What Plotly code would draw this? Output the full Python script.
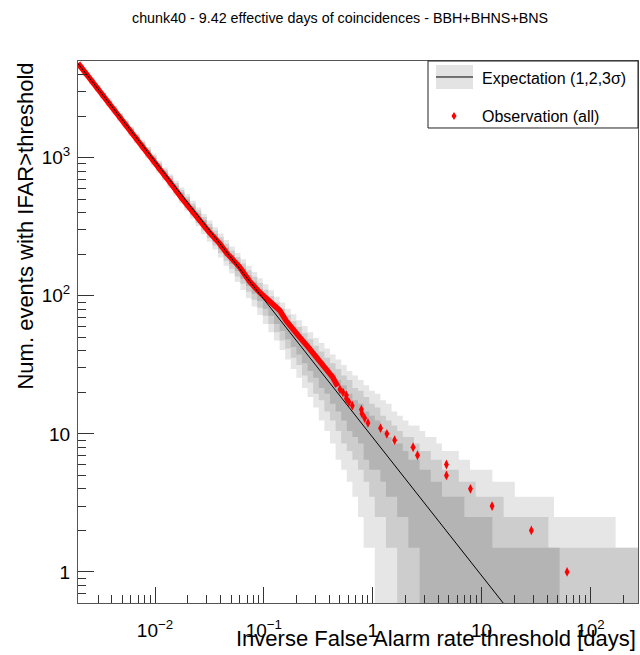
import numpy as np
import plotly.graph_objects as go

FONT = "Liberation Sans, Arial, Helvetica, sans-serif"

# axis limits
X_MIN, X_MAX = 0.00196, 274.0
Y_MIN, Y_MAX = 0.596, 5010.0

# expectation line (end points on the frame)
EXPECT_T = [0.00196, 274.0]
EXPECT_N = [4806.0, 0.0344]

# histogram bins of the 1,2,3 sigma bands (100 log bins across the x range)
N_BINS = 100

LO3 = [4321, 3827, 3390, 3002, 2658, 2351, 2082, 1842, 1629, 1439,
       1272, 1125, 993, 877, 774, 683, 602, 531, 467, 412,
       362, 318, 280, 246, 216, 189, 165, 145, 126, 110,
       96, 83.5, 72.5, 62.5, 54.5, 47.5, 40.5, 34.5, 29.5, 25.5,
       21.5, 18.5, 15.5, 12.5, 10.5, 8.5, 6.5, 5.5, 4.5, 3.5,
       2.5, 1.5, 1.5, 0.5, 0.5, 0.5, 0.5, 0.5, 0.5, 0.5,
       0.5, 0.5, 0.5, 0.5, 0.5, 0.5, 0.5, 0.5, 0.5, 0.5,
       0.5, 0.5, 0.5, 0.5, 0.5, 0.5, 0.5, 0.5, 0.5, 0.5,
       0.5, 0.5, 0.5, 0.5, 0.5, 0.5, 0.5, 0.5, 0.5, 0.5,
       0.5, 0.5, 0.5, 0.5, 0.5, 0.5, 0.5, 0.5, 0.5, 0.5]
LO2 = [4387, 3890, 3449, 3057, 2710, 2401, 2128, 1885, 1669, 1478,
       1309, 1159, 1025, 907, 802, 710, 627, 554, 490, 433,
       382, 337, 297, 262, 231, 203, 179, 157, 138, 122,
       107, 93.5, 82, 71.5, 62.5, 54.5, 47.5, 41.5, 35.5, 31.5,
       26.5, 23.5, 19.5, 17.5, 14.5, 12.5, 10.5, 8.5, 7.5, 6.5,
       5.5, 4.5, 3.5, 2.5, 2.5, 1.5, 1.5, 0.5, 0.5, 0.5,
       0.5, 0.5, 0.5, 0.5, 0.5, 0.5, 0.5, 0.5, 0.5, 0.5,
       0.5, 0.5, 0.5, 0.5, 0.5, 0.5, 0.5, 0.5, 0.5, 0.5,
       0.5, 0.5, 0.5, 0.5, 0.5, 0.5, 0.5, 0.5, 0.5, 0.5,
       0.5, 0.5, 0.5, 0.5, 0.5, 0.5, 0.5, 0.5, 0.5, 0.5]
LO1 = [4454, 3953, 3508, 3113, 2762, 2451, 2174, 1929, 1711, 1517,
       1345, 1193, 1057, 938, 831, 737, 653, 579, 512, 454,
       402, 356, 315, 279, 247, 218, 193, 170, 151, 133,
       117.5, 103.5, 91.5, 80.5, 71.5, 62.5, 55.5, 48.5, 42.5, 37.5,
       32.5, 28.5, 25.5, 21.5, 19.5, 16.5, 14.5, 12.5, 10.5, 9.5,
       8.5, 6.5, 5.5, 5.5, 4.5, 3.5, 3.5, 2.5, 2.5, 1.5,
       1.5, 0.5, 0.5, 0.5, 0.5, 0.5, 0.5, 0.5, 0.5, 0.5,
       0.5, 0.5, 0.5, 0.5, 0.5, 0.5, 0.5, 0.5, 0.5, 0.5,
       0.5, 0.5, 0.5, 0.5, 0.5, 0.5, 0.5, 0.5, 0.5, 0.5,
       0.5, 0.5, 0.5, 0.5, 0.5, 0.5, 0.5, 0.5, 0.5, 0.5]
HI1 = [4590, 4081, 3628, 3227, 2870, 2552, 2270, 2019, 1795, 1597,
       1421, 1265, 1125, 1001, 891, 793, 706, 629, 560, 499,
       444, 396, 353, 314, 280, 250, 223, 199, 177, 158,
       141, 126.5, 112.5, 100.5, 89.5, 80.5, 72.5, 64.5, 57.5, 51.5,
       46.5, 41.5, 37.5, 33.5, 30.5, 27.5, 24.5, 22.5, 19.5, 17.5,
       16.5, 14.5, 13.5, 12.5, 10.5, 9.5, 8.5, 8.5, 7.5, 6.5,
       6.5, 5.5, 5.5, 4.5, 4.5, 3.5, 3.5, 3.5, 3.5, 2.5,
       2.5, 2.5, 2.5, 2.5, 1.5, 1.5, 1.5, 1.5, 1.5, 1.5,
       1.5, 1.5, 1.5, 1.5, 1.5, 1.5, 0.5, 0.5, 0.5, 0.5,
       0.5, 0.5, 0.5, 0.5, 0.5, 0.5, 0.5, 0.5, 0.5, 0.5]
HI2 = [4657, 4144, 3688, 3284, 2923, 2602, 2317, 2064, 1838, 1637,
       1458, 1300, 1158, 1032, 920, 821, 732, 654, 583, 521,
       465, 416, 372, 332, 297, 265, 238, 213, 191, 171,
       153, 137.5, 123.5, 110.5, 99.5, 89.5, 80.5, 72.5, 65.5, 59.5,
       53.5, 48.5, 43.5, 39.5, 35.5, 32.5, 29.5, 26.5, 24.5, 21.5,
       20.5, 18.5, 16.5, 15.5, 13.5, 12.5, 11.5, 10.5, 9.5, 9.5,
       8.5, 7.5, 7.5, 6.5, 6.5, 5.5, 5.5, 5.5, 4.5, 4.5,
       4.5, 3.5, 3.5, 3.5, 3.5, 3.5, 2.5, 2.5, 2.5, 2.5,
       2.5, 2.5, 2.5, 2.5, 1.5, 1.5, 1.5, 1.5, 1.5, 1.5,
       1.5, 1.5, 1.5, 1.5, 1.5, 1.5, 1.5, 1.5, 1.5, 1.5]
HI3 = [4726, 4209, 3749, 3341, 2977, 2653, 2365, 2109, 1880, 1677,
       1496, 1336, 1192, 1065, 951, 850, 759, 679, 607, 544,
       487, 436, 391, 350, 314, 282, 253, 227, 204, 184,
       165, 148.5, 134, 121, 109.5, 98.5, 89.5, 80.5, 73.5, 66.5,
       60.5, 54.5, 49.5, 45.5, 41.5, 37.5, 34.5, 31.5, 28.5, 26.5,
       24.5, 22.5, 20.5, 19.5, 17.5, 16.5, 14.5, 13.5, 12.5, 11.5,
       11.5, 10.5, 9.5, 9.5, 8.5, 7.5, 7.5, 7.5, 6.5, 6.5,
       5.5, 5.5, 5.5, 5.5, 4.5, 4.5, 4.5, 4.5, 3.5, 3.5,
       3.5, 3.5, 3.5, 3.5, 3.5, 2.5, 2.5, 2.5, 2.5, 2.5,
       2.5, 2.5, 2.5, 2.5, 2.5, 2.5, 1.5, 1.5, 1.5, 1.5]

# observed events: dense part (drawn as a thick trail) and the sparse tail
OBS_DENSE_T = [0.00196, 0.00310, 0.00473, 0.00891, 0.01361, 0.01794, 0.02570,
               0.03177, 0.0390, 0.0455, 0.0600, 0.0740, 0.0914, 0.113, 0.1397,
               0.160, 0.184, 0.2134, 0.255, 0.306, 0.365, 0.429, 0.477]
OBS_DENSE_N = [4828, 3041, 1995, 1059, 668, 500, 345,
               286, 240, 204, 161, 127, 106, 90.5, 78.4,
               66.0, 56.8, 50.1, 42.5, 35.9, 30.0, 25.7, 22.1]
OBS_T = [61.1, 28.7, 12.5, 7.91, 4.76, 4.76, 2.58, 2.35, 1.59, 1.35,
         1.18, 0.905, 0.844, 0.797, 0.787, 0.650, 0.605, 0.573, 0.573, 0.533, 0.50]
OBS_N = [1, 2, 3, 4, 5, 6, 7, 8, 9, 10,
         11, 12, 13, 14, 15, 16, 17, 18, 19, 20, 21]

X_TICKS = [0.01, 0.1, 1, 10, 100]
X_TICKTEXT = ["10<sup>\u22122</sup>", "10<sup>\u22121</sup>", "1", "10", "10<sup>2</sup>"]
Y_TICKS = [1, 10, 100, 1000]
Y_TICKTEXT = ["1", "10", "10<sup>2</sup>", "10<sup>3</sup>"]

BAND_COLORS = ["#e6e6e6", "#cdcdcd", "#b4b4b4"]

edges = np.logspace(np.log10(X_MIN), np.log10(X_MAX), N_BINS + 1)
step_x = np.repeat(edges, 2)[1:-1]


def band_polygon(lo, hi):
    ys_hi = np.repeat(np.asarray(hi, float), 2)
    ys_lo = np.repeat(np.asarray(lo, float), 2)
    return (np.concatenate([step_x, step_x[::-1]]),
            np.concatenate([ys_hi, ys_lo[::-1]]))


fig = go.Figure()

for (lo, hi), col in zip([(LO3, HI3), (LO2, HI2), (LO1, HI1)], BAND_COLORS):
    bx, by = band_polygon(lo, hi)
    fig.add_trace(go.Scatter(x=bx, y=by, mode="lines", fill="toself",
                             fillcolor=col, line=dict(width=0),
                             hoverinfo="skip", showlegend=False))

fig.add_trace(go.Scatter(x=OBS_DENSE_T, y=OBS_DENSE_N, mode="lines",
                         line=dict(color="#ff0000", width=5.5),
                         showlegend=False))
fig.add_trace(go.Scatter(x=OBS_T, y=OBS_N, mode="markers",
                         marker=dict(symbol="diamond-tall", size=7, color="#ff0000"),
                         showlegend=False))
fig.add_trace(go.Scatter(x=EXPECT_T, y=EXPECT_N, mode="lines",
                         line=dict(color="black", width=1),
                         showlegend=False))

minor_x = [m * 10.0 ** e for e in range(-3, 3) for m in range(2, 10)]
minor_y = [m * 10.0 ** e for e in range(-1, 4) for m in range(2, 10)]

axis_common = dict(
    type="log", showgrid=False, zeroline=False,
    showline=True, linecolor="#555555", linewidth=1, mirror=True,
    ticks="inside", ticklen=16, tickwidth=1, tickcolor="#333333",
    tickfont=dict(family=FONT, size=19, color="black"),
)
fig.update_xaxes(range=[np.log10(X_MIN), np.log10(X_MAX)],
                 tickmode="array", tickvals=X_TICKS, ticktext=X_TICKTEXT,
                 minor=dict(tickmode="array", tickvals=minor_x, ticks="inside",
                            ticklen=8, tickcolor="#333333", showgrid=False),
                 ticklabelstandoff=10, **axis_common)
fig.update_yaxes(range=[np.log10(Y_MIN), np.log10(Y_MAX)],
                 tickmode="array", tickvals=Y_TICKS, ticktext=Y_TICKTEXT,
                 minor=dict(tickmode="array", tickvals=minor_y, ticks="inside",
                            ticklen=8, tickcolor="#333333", showgrid=False),
                 ticklabelstandoff=3, **axis_common)

# legend drawn by hand (ROOT style box in the upper right corner)
shapes = [
    dict(type="rect", xref="paper", yref="paper", x0=0.625, x1=1.0, y0=0.8764, y1=1.0,
         line=dict(color="#222222", width=1), fillcolor="white", layer="above"),
    dict(type="rect", xref="paper", yref="paper", x0=0.6393, x1=0.7054, y0=0.9483, y1=0.9926,
         line=dict(width=0), fillcolor="#e3e3e3", layer="above"),
    dict(type="line", xref="paper", yref="paper", x0=0.6393, x1=0.7054, y0=0.9705, y1=0.9705,
         line=dict(color="black", width=1), layer="above"),
    dict(type="path", xref="paper", yref="paper", xsizemode="pixel", ysizemode="pixel",
         xanchor=0.6714, yanchor=0.8985, path="M0,4 L2.5,0 L0,-4 L-2.5,0 Z",
         line=dict(width=0), fillcolor="#ff0000", layer="above"),
]

annotations = [
    dict(text="chunk40 - 9.42 effective days of coincidences - BBH+BHNS+BNS",
         xref="paper", yref="paper", x=0.468, y=1.0793, xanchor="center", yanchor="middle",
         showarrow=False, font=dict(family=FONT, size=14.3, color="black")),
    dict(text="Num. events with IFAR>threshold", textangle=-90,
         xref="paper", yref="paper", x=-0.0946, y=1.0, xanchor="center", yanchor="top",
         showarrow=False, font=dict(family=FONT, size=22, color="black")),
    dict(text="Inverse False Alarm rate threshold [days]",
         xref="paper", yref="paper", x=1.0, y=-0.0646, xanchor="right", yanchor="middle",
         showarrow=False, font=dict(family=FONT, size=22, color="black")),
    dict(text="Expectation (1,2,3\u03c3)",
         xref="paper", yref="paper", x=0.7179, y=0.9668, xanchor="left", yanchor="middle",
         showarrow=False, font=dict(family=FONT, size=16, color="black")),
    dict(text="Observation (all)",
         xref="paper", yref="paper", x=0.7179, y=0.8985, xanchor="left", yanchor="middle",
         showarrow=False, font=dict(family=FONT, size=16, color="black")),
]

fig.update_layout(
    width=640, height=655,
    margin=dict(l=78, r=2, t=61, b=52),
    paper_bgcolor="white", plot_bgcolor="white",
    showlegend=False,
    shapes=shapes, annotations=annotations,
    font=dict(family=FONT, color="black"),
)

# drop the default page margin so the 640x655 figure fills the window
fig.write_html("out.html",
               config={"displayModeBar": False},
               post_script="document.body.style.margin='0';document.body.style.overflow='hidden';")
